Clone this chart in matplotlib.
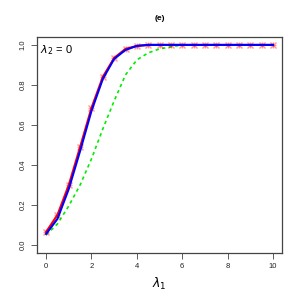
import numpy as np
import matplotlib.pyplot as plt

plt.rcParams['font.family'] = ['Liberation Sans', 'DejaVu Sans']

lam1 = [0, 0.5, 1, 1.5, 2, 2.5, 3, 3.5, 4, 4.5, 5, 5.5, 6, 6.5, 7, 7.5, 8, 8.5, 9, 9.5, 10]
red = [0.065, 0.15, 0.30, 0.49, 0.685, 0.84, 0.935, 0.98, 0.995, 1.0, 1.0,
       1.0, 1.0, 1.0, 1.0, 1.0, 1.0, 1.0, 1.0, 1.0, 1.0]
blue = [0.055, 0.13, 0.28, 0.47, 0.67, 0.83, 0.93, 0.975, 0.995, 1.0, 1.0,
        1.0, 1.0, 1.0, 1.0, 1.0, 1.0, 1.0, 1.0, 1.0, 1.0]
green = [0.05, 0.105, 0.195, 0.30, 0.43, 0.58, 0.72, 0.85, 0.925, 0.96, 0.98,
         0.99, 1.0, 1.0, 1.0, 1.0, 1.0, 1.0, 1.0, 1.0, 1.0]

fig = plt.figure(figsize=(3.01, 3.0), dpi=100)
ax = fig.add_axes([0.123, 0.157, 0.814, 0.72])

ax.plot(lam1, green, color='#00ee00', lw=1.2, ls=(0, (2, 2)), zorder=2)
ax.plot(lam1, red, color='red', lw=1.5, zorder=3)
# pch 8 style star: plus and cross overlaid
ax.plot(lam1, red, ls='none', marker='+', ms=5, mew=1.0, color='red', alpha=0.4, zorder=4)
ax.plot(lam1, red, ls='none', marker='x', ms=4, mew=1.0, color='red', alpha=0.4, zorder=4)
ax.plot(lam1, blue, color='blue', lw=1.5, zorder=5)

ax.set_xlim(-0.4, 10.4)
ax.set_ylim(-0.04, 1.04)
ax.set_xticks([0, 2, 4, 6, 8, 10])
ax.set_yticks([0.0, 0.2, 0.4, 0.6, 0.8, 1.0])
ax.set_yticklabels(['0.0', '0.2', '0.4', '0.6', '0.8', '1.0'], rotation=90, va='center')
ax.tick_params(labelsize=5.5, length=4, width=0.6, color='#444444', labelcolor='#222222')
for s in ax.spines.values():
    s.set_linewidth(0.9)
    s.set_color('#444444')

ax.text(-0.25, 0.975, r'$\lambda_2$ = 0', fontsize=8, va='center', ha='left')
ax.set_xlabel(r'$\lambda_1$', fontsize=9, labelpad=4)
fig.text(0.53, 0.937, '(e)', fontsize=6, fontweight='bold', ha='center', va='center')

fig.savefig('out.png', dpi=100)
